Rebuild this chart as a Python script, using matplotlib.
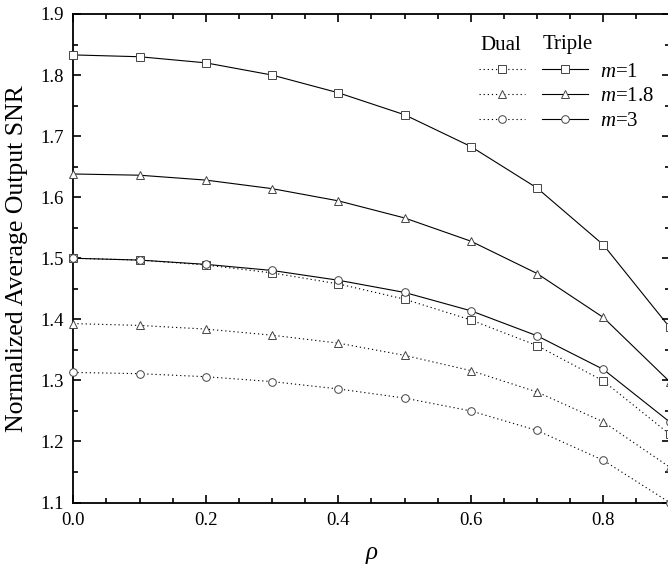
import matplotlib
matplotlib.use("Agg")
import matplotlib.pyplot as plt
from matplotlib.lines import Line2D
from matplotlib.ticker import MultipleLocator

rho = [0.0, 0.1, 0.2, 0.3, 0.4, 0.5, 0.6, 0.7, 0.8, 0.9]

triple_m1 = [1.833, 1.830, 1.820, 1.800, 1.771, 1.735, 1.683, 1.615, 1.522, 1.387]
triple_m18 = [1.638, 1.636, 1.628, 1.614, 1.594, 1.566, 1.528, 1.475, 1.403, 1.298]
triple_m3 = [1.500, 1.497, 1.490, 1.480, 1.464, 1.444, 1.414, 1.373, 1.318, 1.232]
dual_m1 = [1.500, 1.497, 1.489, 1.476, 1.458, 1.433, 1.399, 1.357, 1.299, 1.212]
dual_m18 = [1.393, 1.390, 1.384, 1.374, 1.361, 1.341, 1.316, 1.281, 1.232, 1.158]
dual_m3 = [1.313, 1.311, 1.306, 1.298, 1.286, 1.271, 1.250, 1.218, 1.169, 1.100]

m_labels = ["$m$=1", "$m$=1.8", "$m$=3"]
markers = ["s", "^", "o"]

plt.rcParams["font.family"] = ["Liberation Serif", "DejaVu Serif"]
plt.rcParams["mathtext.fontset"] = "custom"
plt.rcParams["mathtext.it"] = "Liberation Serif:italic"
plt.rcParams["mathtext.rm"] = "Liberation Serif"

fig = plt.figure(figsize=(6.68, 5.66), dpi=100)
ax = fig.add_axes([73.3 / 668, 1 - 502.5 / 566, (669.6 - 73.3) / 668, (502.5 - 14) / 566])

dotted = (0, (1.1, 2.6))
lw = 0.8
ms = 5.5
mec = "#444444"

triples = [triple_m1, triple_m18, triple_m3]
duals = [dual_m1, dual_m18, dual_m3]

for y, mk in zip(duals, markers):
    ax.plot(rho, y, linestyle=dotted, color="black", lw=lw, marker=mk,
            markersize=ms, markerfacecolor="white", markeredgecolor=mec,
            markeredgewidth=0.7, clip_on=False, zorder=3)
for y, mk in zip(triples, markers):
    ax.plot(rho, y, linestyle="-", color="black", lw=lw, marker=mk,
            markersize=ms, markerfacecolor="white", markeredgecolor=mec,
            markeredgewidth=0.7, clip_on=False, zorder=4)

ax.set_xlim(0.0, 0.9)
ax.set_ylim(1.1, 1.9)
ax.xaxis.set_major_locator(MultipleLocator(0.2))
ax.xaxis.set_minor_locator(MultipleLocator(0.05))
ax.yaxis.set_major_locator(MultipleLocator(0.1))
ax.yaxis.set_minor_locator(MultipleLocator(0.05))
ax.set_xticks([0.0, 0.2, 0.4, 0.6, 0.8])
ax.set_xticklabels(["0.0", "0.2", "0.4", "0.6", "0.8"])
ax.tick_params(which="both", direction="in", top=True, right=True, width=1.2)
ax.tick_params(which="major", length=6, labelsize=13.5, pad=7)
ax.tick_params(which="minor", length=3.5)
for s in ax.spines.values():
    s.set_linewidth(1.3)

ax.set_ylabel("Normalized Average Output SNR", fontsize=18.5, labelpad=9)
ax.set_xlabel(r"$\rho$", fontsize=18, labelpad=11)

# legend
handles = []
labels = []
for mk in markers:
    handles.append(Line2D([], [], linestyle=dotted, color="black", lw=lw, marker=mk,
                          markersize=ms, markerfacecolor="white", markeredgecolor=mec,
                          markeredgewidth=0.7))
    labels.append("")
for mk, lab in zip(markers, m_labels):
    handles.append(Line2D([], [], linestyle="-", color="black", lw=lw, marker=mk,
                          markersize=ms, markerfacecolor="white", markeredgecolor=mec,
                          markeredgewidth=0.7))
    labels.append(lab)
leg = ax.legend(handles, labels, ncol=2, loc="upper left",
                bbox_to_anchor=((479 - 73.3) / 596.3, 1 - (62 - 14) / 488.5),
                frameon=False, fontsize=15, handlelength=2.2, handletextpad=0.58,
                columnspacing=0.24, labelspacing=0.25, borderaxespad=0.0,
                borderpad=0.0)

ax.text(501, 566 - 45, "Dual", transform=None, fontsize=15, ha="center", va="center")
ax.text(568, 566 - 45, "Triple", transform=None, fontsize=15, ha="center", va="center")

fig.savefig("out.png", dpi=100)
